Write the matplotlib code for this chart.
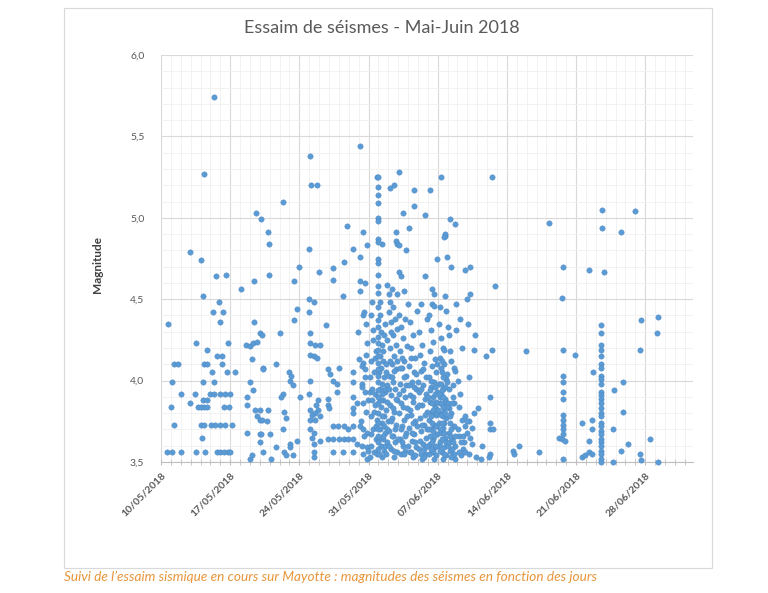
import datetime as dt
import matplotlib
matplotlib.use("Agg")
import matplotlib.pyplot as plt
from matplotlib.ticker import FuncFormatter, MultipleLocator
import matplotlib.dates as mdates
from matplotlib.patches import Rectangle

# ---------------- data: (days after 10/05/2018 00:00, magnitude) ----------------
start_date = dt.datetime(2018, 5, 10)
end_date = dt.datetime(2018, 7, 2, 20)
tick_labels = ["10/05/2018", "17/05/2018", "24/05/2018", "31/05/2018",
               "07/06/2018", "14/06/2018", "21/06/2018", "28/06/2018"]

early_may = [
    (0.57, 3.56), (1.1, 3.56), (2.0, 3.56), (3.5, 3.56), (4.5, 3.56), (5.7, 3.56), (6.0, 3.56),
    (6.4, 3.56), (6.75, 3.56), (7.0, 3.56), (0.73, 4.35), (1.3, 4.10), (1.7, 4.10), (1.1, 3.99),
    (1.05, 3.84), (1.3, 3.73), (2.0, 3.92), (2.9, 3.86), (3.4, 3.92), (2.98, 4.79), (3.5, 4.23),
    (4.04, 4.74), (4.2, 4.52), (4.7, 4.19), (4.4, 4.10), (4.7, 4.10), (4.3, 3.99), (4.2, 3.88),
    (4.7, 3.88), (3.7, 3.84), (4.0, 3.84), (4.4, 3.84), (4.7, 3.84), (4.0, 3.73), (4.4, 3.73),
    (4.1, 3.65), (4.4, 5.27), (5.4, 5.74), (5.6, 4.64), (6.6, 4.65), (5.9, 4.48), (5.3, 4.42),
    (6.25, 4.42), (5.96, 4.36), (6.75, 4.23), (5.7, 4.15), (6.2, 4.15), (6.2, 4.10), (5.2, 4.05),
    (6.7, 4.05), (7.5, 4.05), (5.4, 3.99), (5.0, 3.92), (5.4, 3.92), (6.0, 3.92), (6.5, 3.92),
    (7.0, 3.92), (6.4, 3.84), (6.9, 3.84), (5.1, 3.73), (5.5, 3.73), (6.0, 3.73), (6.5, 3.73),
    (7.2, 3.73), (8.1, 4.56), (9.4, 4.61), (9.4, 4.36), (9.0, 3.99), (9.3, 3.94), (8.7, 3.90),
    (8.7, 3.85), (9.5, 3.82), (9.7, 3.78), (10.0, 3.76), (8.7, 3.68), (10.0, 3.67), (10.0, 3.62),
    (9.0, 3.52), (9.2, 3.54), (8.6, 4.22), (9.0, 4.21), (9.3, 4.23), (9.2, 4.13), (10.0, 4.29),
    (9.7, 4.24), (10.3, 4.08), (9.6, 5.03), (10.1, 4.99),
]

late_may = [
    (10.8, 4.91), (10.9, 4.84), (10.9, 4.65), (12.3, 5.10), (15.1, 5.38), (15.2, 5.20), (15.8, 5.20),
    (20.1, 5.44), (18.8, 4.95), (20.4, 4.91), (20.8, 4.83), (15.0, 4.81), (19.4, 4.81), (20.1, 4.76),
    (18.5, 4.73), (14.0, 4.70), (16.0, 4.67), (17.4, 4.69), (17.4, 4.62), (13.5, 4.61), (20.1, 4.61),
    (20.6, 4.60), (20.1, 4.55), (18.4, 4.52), (15.0, 4.50), (15.5, 4.48), (13.8, 4.44), (15.0, 4.42),
    (20.4, 4.40), (13.5, 4.37), (16.7, 4.34), (20.7, 4.35), (10.2, 4.28), (12.0, 4.29), (15.1, 4.29),
    (19.9, 4.30), (15.1, 4.23), (15.6, 4.22), (16.1, 4.22), (20.8, 4.23), (15.1, 4.16), (15.5, 4.15),
    (15.8, 4.14), (20.0, 4.13), (20.4, 4.11), (11.6, 4.10), (10.3, 4.07), (13.0, 4.05), (13.2, 4.03),
    (13.1, 4.00), (13.4, 3.97), (16.9, 4.07), (17.1, 4.04), (17.4, 4.00), (17.8, 3.98), (18.0, 4.08),
    (15.1, 4.00), (19.4, 3.99), (20.3, 3.98), (20.6, 3.93), (21.1, 3.93), (12.3, 3.92), (12.1, 3.90),
    (14.1, 3.90), (15.0, 3.92), (16.9, 3.89), (17.8, 3.93), (19.4, 3.90), (19.8, 3.86), (20.4, 3.86),
    (15.9, 3.88), (15.7, 3.85), (15.9, 3.82), (15.6, 3.80), (16.9, 3.85), (17.0, 3.83), (10.0, 3.82),
    (10.8, 3.82), (12.4, 3.81), (15.1, 3.82), (15.3, 3.79), (15.1, 3.76), (15.6, 3.76), (16.1, 3.78),
    (19.4, 3.83), (19.4, 3.80), (20.7, 3.81), (10.2, 3.76), (10.7, 3.75), (12.6, 3.77), (17.4, 3.72),
    (17.9, 3.72), (18.5, 3.72), (18.9, 3.70), (19.4, 3.72), (20.1, 3.72), (20.4, 3.70), (20.8, 3.68),
    (12.3, 3.70), (10.1, 3.67), (11.0, 3.67), (15.1, 3.70), (15.5, 3.68), (15.3, 3.65), (16.1, 3.63),
    (13.8, 3.63), (13.1, 3.61), (16.9, 3.64), (17.4, 3.64), (18.0, 3.64), (18.5, 3.64), (18.9, 3.64),
    (19.4, 3.64), (19.8, 3.61), (20.3, 3.60), (20.8, 3.59), (11.6, 3.59), (13.1, 3.59), (12.4, 3.56),
    (12.6, 3.54), (13.4, 3.54), (10.3, 3.56), (15.5, 3.61), (15.5, 3.56), (15.5, 3.53), (17.4, 3.56),
    (18.4, 3.56), (19.4, 3.56), (20.4, 3.55), (20.8, 3.52), (11.1, 3.52), (19.4, 4.05), (20.3, 4.09),
    (20.6, 4.07), (20.3, 3.96), (20.6, 4.02), (20.9, 3.88), (20.2, 3.75), (20.5, 3.66), (20.9, 3.57),
    (20.7, 4.16), (20.5, 4.42),
]

# burst of 31/05-01/06 (one vertical column of events)
burst_day = 21.95
burst_mags = [5.25, 5.19, 5.14, 5.09, 5.00, 4.98, 4.87, 4.85, 4.75, 4.72, 4.65, 4.58, 4.54, 4.45,
              4.37, 4.33, 4.27, 4.23, 4.19, 4.15, 4.11, 4.07, 4.03, 3.99, 3.94, 3.90, 3.86, 3.80,
              3.74, 3.70, 3.66, 3.62, 3.58]

peak_june = [
    (21.2, 4.40), (21.5, 4.25), (21.3, 4.12), (21.6, 4.05), (21.4, 3.95), (21.7, 3.85), (21.2, 3.78),
    (21.5, 3.70), (21.8, 3.64), (21.3, 3.60), (21.6, 3.56), (21.1, 3.53), (21.8, 4.18), (21.45, 4.31),
    (21.7, 3.92), (21.9, 3.76),
    (22.2, 4.40), (22.3, 4.30), (22.4, 4.22), (22.2, 4.15), (22.5, 4.12), (22.3, 4.08), (22.6, 4.02),
    (22.4, 3.98), (22.2, 3.95), (22.7, 3.93), (22.5, 3.88), (22.3, 3.84), (22.8, 3.82), (22.6, 3.78),
    (22.4, 3.74), (22.2, 3.70), (22.7, 3.68), (22.5, 3.64), (22.9, 3.62), (22.3, 3.60), (22.6, 3.57),
    (22.8, 3.55), (22.4, 3.53), (22.9, 4.25), (22.8, 4.10), (22.9, 3.97), (22.15, 4.48), (22.7, 4.35),
    (22.95, 3.75),
    (23.1, 4.42), (23.3, 4.36), (23.5, 4.28), (23.2, 4.20), (23.6, 4.15), (23.4, 4.10), (23.8, 4.07),
    (23.1, 4.03), (23.5, 3.99), (23.7, 3.95), (23.3, 3.91), (23.9, 3.88), (23.2, 3.85), (23.6, 3.81),
    (23.4, 3.77), (23.8, 3.73), (23.1, 3.69), (23.5, 3.66), (23.7, 3.62), (23.3, 3.58), (23.9, 3.56),
    (23.6, 3.53), (23.45, 4.45), (23.9, 4.32), (23.75, 4.22),
    (24.1, 4.40), (24.3, 4.33), (24.5, 4.26), (24.2, 4.18), (24.6, 4.12), (24.4, 4.08), (24.8, 4.03),
    (24.2, 3.98), (24.5, 3.94), (24.7, 3.90), (24.3, 3.86), (24.9, 3.83), (24.1, 3.80), (24.6, 3.76),
    (24.4, 3.72), (24.8, 3.68), (24.2, 3.64), (24.5, 3.60), (24.7, 3.57), (24.3, 3.55), (24.9, 4.21),
    (24.65, 4.38),
    (25.2, 4.36), (25.5, 4.28), (25.3, 4.20), (25.7, 4.14), (25.1, 4.09), (25.6, 4.05), (25.4, 3.99),
    (25.8, 3.95), (25.2, 3.91), (25.5, 3.87), (25.9, 3.84), (25.3, 3.79), (25.7, 3.75), (25.1, 3.71),
    (25.6, 3.67), (25.4, 3.63), (25.8, 3.59), (25.2, 3.56), (25.5, 3.53), (25.9, 4.43),
    (26.1, 4.30), (26.4, 4.22), (26.2, 4.16), (26.6, 4.11), (26.3, 4.06), (26.8, 4.02), (26.5, 3.97),
    (26.1, 3.93), (26.7, 3.89), (26.4, 3.85), (26.9, 3.81), (26.2, 3.77), (26.6, 3.73), (26.3, 3.69),
    (26.8, 3.65), (26.5, 3.61), (26.1, 3.58), (26.7, 3.55), (26.4, 3.52), (26.9, 4.38), (26.3, 4.47),
    (27.1, 4.40), (27.3, 4.31), (27.5, 4.24), (27.2, 4.18), (27.7, 4.13), (27.4, 4.09), (27.8, 4.05),
    (27.1, 4.02), (27.6, 3.99), (27.3, 3.96), (27.9, 3.93), (27.5, 3.90), (27.2, 3.87), (27.7, 3.84),
    (27.4, 3.81), (27.8, 3.79), (27.1, 3.76), (27.6, 3.73), (27.3, 3.70), (27.9, 3.67), (27.5, 3.64),
    (27.2, 3.61), (27.7, 3.59), (27.4, 3.56), (27.8, 3.54), (27.6, 3.52), (27.35, 4.00), (27.65, 3.86),
    (27.85, 3.72), (27.45, 3.62), (27.95, 4.10),
    (28.1, 4.35), (28.3, 4.26), (28.5, 4.20), (28.2, 4.14), (28.6, 4.10), (28.4, 4.05), (28.8, 4.01),
    (28.1, 3.98), (28.5, 3.95), (28.3, 3.92), (28.7, 3.89), (28.2, 3.86), (28.6, 3.83), (28.4, 3.80),
    (28.8, 3.77), (28.1, 3.74), (28.5, 3.71), (28.3, 3.68), (28.7, 3.65), (28.2, 3.62), (28.6, 3.59),
    (28.4, 3.56), (28.8, 3.54), (28.5, 3.52), (28.35, 3.98), (28.55, 3.78), (28.15, 3.60), (28.45, 4.12),
    (28.25, 4.45),
    (29.3, 4.12), (29.1, 3.95), (29.5, 3.90), (29.3, 3.80), (29.6, 3.72), (29.1, 3.68), (29.4, 3.64),
    (29.7, 3.60), (29.2, 3.57), (29.5, 3.54), (29.8, 3.52), (29.6, 3.86),
    (30.1, 4.00), (30.3, 3.92), (30.2, 3.84), (30.5, 3.76), (30.2, 3.66), (30.6, 3.58), (30.4, 3.54),
    (30.7, 3.62),
    (21.9, 5.25), (24.1, 5.28), (28.3, 5.25), (33.5, 5.25), (23.6, 5.20), (23.2, 5.18), (25.6, 5.17),
    (27.2, 5.17), (25.6, 5.07), (24.5, 5.03), (26.7, 5.02), (29.2, 4.99), (29.8, 4.96), (25.1, 4.94),
    (23.8, 4.91), (28.7, 4.89), (28.78, 4.90), (28.62, 4.88), (22.4, 4.84), (23.8, 4.86), (23.9, 4.84),
    (24.1, 4.83), (24.8, 4.80), (28.9, 4.76), (27.9, 4.75), (29.3, 4.70), (30.8, 4.68), (31.3, 4.70),
    (33.8, 4.58), (24.1, 4.67), (24.3, 4.64), (26.7, 4.64), (22.9, 4.59), (23.4, 4.56), (23.1, 4.53),
    (23.9, 4.53), (24.6, 4.55), (23.2, 4.48), (25.0, 4.47), (27.4, 4.56), (27.6, 4.53), (27.4, 4.47),
    (27.6, 4.46), (28.7, 4.52), (29.9, 4.47), (31.0, 4.50), (31.3, 4.53), (28.8, 4.43), (31.1, 4.35),
    (29.9, 4.31), (33.5, 4.19), (31.7, 4.19), (32.9, 4.15), (31.2, 4.02), (33.3, 3.90), (33.3, 3.74),
    (33.3, 3.70), (33.6, 3.70), (30.8, 3.78), (31.2, 3.75), (31.5, 3.71), (32.1, 3.83), (31.7, 3.80),
    (31.0, 3.68), (31.3, 3.65), (31.5, 3.61), (30.8, 3.56), (31.2, 3.55), (32.5, 3.60), (31.9, 3.53),
    (32.4, 3.52), (33.3, 3.55), (33.2, 3.53), (29.0, 4.33), (29.1, 4.28), (31.8, 4.28), (28.6, 4.19),
    (29.2, 4.18), (29.6, 4.08), (29.7, 4.06), (28.9, 4.04), (29.5, 3.97), (28.9, 3.99), (28.2, 3.90),
    (28.7, 3.87), (29.0, 3.86), (29.1, 3.83), (29.2, 3.78), (29.2, 3.74), (31.0, 3.75), (30.8, 3.72),
    (35.6, 3.57),
]

peak_june_extra = [
    (21.15, 4.02), (21.35, 3.88), (21.55, 3.81), (21.75, 3.72), (21.25, 3.67), (21.65, 4.14),
    (21.4, 4.48), (21.85, 3.55),
    (22.05, 4.05), (22.15, 3.88), (22.35, 3.92), (22.45, 4.18), (22.55, 3.72), (22.65, 3.95),
    (22.75, 4.05), (22.85, 3.87), (22.05, 3.65), (22.35, 3.78), (22.55, 4.28), (22.65, 3.60),
    (22.1, 3.55), (22.45, 3.66), (22.85, 3.70),
    (23.05, 3.95), (23.15, 4.12), (23.25, 3.75), (23.35, 4.02), (23.45, 3.83), (23.55, 4.06),
    (23.65, 3.70), (23.75, 3.89), (23.85, 4.12), (23.95, 3.64), (23.05, 3.60), (23.35, 3.66),
    (23.55, 3.57), (23.25, 4.30), (23.65, 4.38),
    (24.05, 3.92), (24.15, 4.08), (24.25, 3.70), (24.35, 4.14), (24.45, 3.84), (24.55, 4.02),
    (24.65, 3.66), (24.75, 3.97), (24.85, 3.78), (24.95, 3.60), (24.35, 3.62), (24.55, 3.55),
    (25.05, 3.97), (25.15, 3.82), (25.25, 4.14), (25.35, 3.68), (25.45, 3.90), (25.55, 3.74),
    (25.65, 3.96), (25.75, 3.62), (25.85, 4.04), (25.95, 3.72), (25.3, 3.56), (25.7, 3.54),
    (26.05, 3.99), (26.15, 3.85), (26.25, 3.63), (26.35, 3.95), (26.45, 3.73), (26.55, 4.07),
    (26.65, 3.58), (26.75, 3.79), (26.85, 3.92), (26.95, 3.70), (26.3, 3.55), (26.6, 3.53),
    (26.9, 3.60),
    (27.05, 3.90), (27.15, 3.70), (27.25, 3.94), (27.35, 3.78), (27.45, 3.74), (27.55, 3.82),
    (27.65, 3.66), (27.75, 3.92), (27.85, 3.60), (27.95, 3.80), (27.15, 3.55), (27.5, 3.57),
    (27.25, 3.66), (27.55, 3.69), (27.85, 3.87), (27.4, 3.86), (27.7, 3.96), (27.3, 3.58),
    (28.05, 3.82), (28.15, 3.92), (28.25, 3.70), (28.35, 3.86), (28.45, 3.64), (28.55, 3.90),
    (28.65, 3.74), (28.75, 3.96), (28.85, 3.62), (28.95, 3.84), (28.25, 3.57), (28.65, 3.55),
    (28.4, 3.94), (28.6, 3.68), (28.3, 3.79), (28.5, 3.84), (28.7, 3.80), (28.45, 3.74),
    (28.35, 4.08), (28.55, 4.02),
    (29.05, 3.60), (29.15, 3.62), (29.25, 3.66), (29.35, 3.70), (29.45, 3.58), (29.55, 3.62),
    (29.65, 3.55), (29.75, 3.66), (29.4, 3.86), (29.35, 3.53),
    (30.05, 3.70), (30.35, 3.62), (30.55, 3.66), (30.15, 3.56), (30.45, 4.20), (30.25, 4.38),
]

# late June: two vertical bursts and scattered events
burst2_day = 40.7
burst2_mags = [4.03, 3.99, 3.93, 3.89, 3.79, 3.76, 3.73, 3.70, 3.67, 3.52]
burst3_day = 44.5
burst3_mags = [4.34, 4.29, 4.22, 4.19, 4.15, 4.10, 4.08, 4.03, 4.01, 3.98, 3.93, 3.91, 3.89, 3.86,
               3.83, 3.80, 3.78, 3.74, 3.72, 3.69, 3.67, 3.64, 3.62, 3.60, 3.57, 3.55, 3.52, 3.50]
late_june = [
    (39.3, 4.97), (44.6, 5.05), (48.0, 5.04), (44.6, 4.94), (46.5, 4.91), (40.7, 4.70), (43.3, 4.68),
    (44.8, 4.67), (40.6, 4.51), (48.6, 4.37), (50.3, 4.39), (50.2, 4.29), (36.9, 4.18), (40.7, 4.19),
    (41.9, 4.16), (48.5, 4.19), (43.7, 4.05), (46.7, 3.99), (45.8, 3.94), (46.8, 3.81), (42.6, 3.74),
    (43.6, 3.76), (43.6, 3.70), (45.7, 3.70), (43.3, 3.63), (49.5, 3.64), (36.2, 3.60), (35.7, 3.55),
    (38.3, 3.56), (47.3, 3.61), (46.5, 3.57), (42.6, 3.53), (42.9, 3.54), (43.3, 3.56), (43.6, 3.55),
    (45.7, 3.50), (48.5, 3.55), (48.6, 3.51), (50.3, 3.50), (40.3, 3.65), (40.6, 3.64), (40.9, 3.63),
]

# ---------------- assemble ----------------
events = list(early_may) + list(late_may) + list(peak_june) + list(peak_june_extra) + list(late_june)
events += [(burst_day, m) for m in burst_mags]
events += [(burst2_day, m) for m in burst2_mags]
events += [(burst3_day, m) for m in burst3_mags]
x_dates = [start_date + dt.timedelta(days=d) for d, _ in events]
y_mags = [m for _, m in events]

# ---------------- figure ----------------
W, H = 768, 593
fig = plt.figure(figsize=(W / 100, H / 100), dpi=100)
fig.patch.set_facecolor("white")

# outer chart frame
fig.patches.append(Rectangle((64 / W, 1 - 568 / H), (712 - 64) / W, (568 - 8) / H,
                             transform=fig.transFigure, fill=False,
                             edgecolor="#d9d9d9", linewidth=0.8))

ax = fig.add_axes([161 / W, 1 - 462 / H, (693 - 161) / W, (462 - 55) / H])
ax.scatter(x_dates, y_mags, s=15, color="#5B9BD5", edgecolors="#4a86c0",
           linewidths=0.3, zorder=3, clip_on=False)

ax.set_xlim(start_date, end_date)
ax.set_ylim(3.5, 6.0)

major_ticks = [start_date + dt.timedelta(days=7 * i) for i in range(len(tick_labels))]
ax.set_xticks(major_ticks)
ax.set_xticklabels(tick_labels, rotation=45, ha="right", rotation_mode="anchor",
                   fontsize=7.5, color="#595959", fontweight="bold", family="Lato")
ax.xaxis.set_minor_locator(mdates.DayLocator())

ax.yaxis.set_major_locator(MultipleLocator(0.5))
ax.yaxis.set_minor_locator(MultipleLocator(0.1))
ax.yaxis.set_major_formatter(FuncFormatter(lambda v, p: f"{v:.1f}".replace(".", ",")))
for lab in ax.get_yticklabels():
    lab.set_fontsize(7.5)
    lab.set_color("#595959")
    lab.set_family("Lato")

ax.grid(which="major", color="#d9d9d9", linewidth=0.8, zorder=0)
ax.grid(which="minor", color="#f0f0f0", linewidth=0.6, zorder=0)
ax.set_axisbelow(True)

for s in ["top", "right", "left"]:
    ax.spines[s].set_visible(False)
ax.spines["bottom"].set_color("#bfbfbf")
ax.spines["bottom"].set_linewidth(0.8)

ax.tick_params(axis="y", which="both", length=0, pad=12)
ax.tick_params(axis="x", which="major", length=4, color="#bfbfbf", direction="inout", pad=4)
ax.tick_params(axis="x", which="minor", length=4, color="#bfbfbf", direction="inout")

fig.text(97 / W, 1 - 265 / H, "Magnitude", rotation=90, ha="center", va="center",
         fontsize=8.5, fontweight="bold", color="#404040", family="Lato")
fig.text(382 / W, 1 - 28 / H, "Essaim de séismes - Mai-Juin 2018", ha="center", va="center",
         fontsize=13, color="#595959", family="Lato")
fig.text(64 / W, 1 - 577 / H,
         "Suivi de l\u2019essaim sismique en cours sur Mayotte : magnitudes des séismes en fonction des jours",
         ha="left", va="center", fontsize=9.8, style="italic", color="#E8953A", family="Lato")

fig.savefig("out.png", dpi=100, facecolor="white")
